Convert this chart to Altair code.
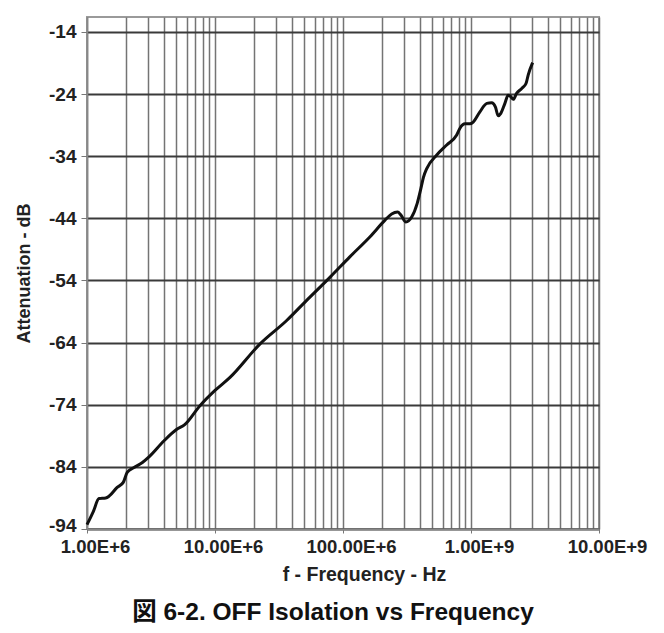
import altair as alt
import pandas as pd

# Measured curve (frequency in Hz, attenuation in dB)
freq_hz = [1.0e6, 1.12e6, 1.24e6, 1.40e6, 1.49e6, 1.72e6, 1.92e6, 2.06e6, 2.33e6, 2.71e6,
           3.05e6, 4.0e6, 5.0e6, 5.8e6, 7.6e6, 10e6, 13.1e6, 22.5e6, 36.3e6, 52e6,
           79e6, 113e6, 162e6, 213e6, 240e6, 267e6, 282e6, 310e6, 344e6, 380e6,
           405e6, 425e6, 451e6, 540e6, 646e6, 773e6, 820e6, 898e6, 980e6, 1.04e9,
           1.17e9, 1.33e9, 1.45e9, 1.55e9, 1.63e9, 1.71e9, 1.84e9, 1.95e9, 2.04e9, 2.14e9,
           2.27e9, 2.49e9, 2.69e9, 2.8e9, 3.03e9]
atten_db = [-93.3, -91.2, -89.1, -89.0, -88.7, -87.3, -86.5, -84.9, -84.1, -83.3,
            -82.4, -79.8, -78.0, -77.2, -74.2, -71.7, -69.6, -64.2, -60.45, -57.2,
            -53.5, -50.2, -47.0, -44.3, -43.3, -43.0, -43.4, -44.6, -43.8, -41.6,
            -39.3, -37.4, -36.0, -33.8, -32.2, -30.6, -29.5, -28.8, -28.8, -28.5,
            -26.9, -25.5, -25.4, -26.05, -27.5, -27.1, -25.5, -24.2, -24.4, -24.85,
            -23.9, -23.1, -22.3, -20.9, -18.95]

# Axis ticks / labels
y_ticks = [-14, -24, -34, -44, -54, -64, -74, -84, -94]
x_decades = [1e6, 1e7, 1e8, 1e9, 1e10]
x_decade_labels = ["1.00E+6", "10.00E+6", "100.00E+6", "1.00E+9", "10.00E+9"]
x_grid = [m * d for d in [1e6, 1e7, 1e8, 1e9] for m in range(1, 10)] + [1e10]

df = pd.DataFrame({"f": freq_hz, "a": atten_db})

FONT = "Liberation Sans, Arial, Noto Sans CJK JP"

label_expr = " : ".join(
    f"datum.value == {v:g} ? '{t}'" for v, t in zip(x_decades, x_decade_labels)
) + " : ''"
decade_test = " || ".join(f"datum.value == {v:g}" for v in x_decades)

chart = alt.Chart(df).mark_line(
    color="#111111", strokeWidth=3, interpolate="monotone"
).encode(
    x=alt.X("f:Q",
            scale=alt.Scale(type="log", domain=[1e6, 1e10], nice=False),
            axis=alt.Axis(values=x_grid, labelExpr=label_expr,
                          title="f - Frequency - Hz", grid=True,
                          gridColor="#747474", gridWidth=1.5,
                          tickSize={"condition": {"test": decade_test, "value": 4}, "value": 0},
                          tickColor="#777777", domainColor="#888888", domainWidth=1.5,
                          labelFontSize=18.5, labelFont=FONT, labelFontWeight="bold",
                          labelColor="#222222", labelPadding=4, labelOffset=8,
                          labelFlush=False, labelOverlap=False,
                          titleFontSize=19.5, titleFont=FONT, titleFontWeight="bold",
                          titleColor="#222222", titlePadding=10, titleX=277)),
    y=alt.Y("a:Q",
            scale=alt.Scale(domain=[-94, -11.6], nice=False, zero=False),
            axis=alt.Axis(values=y_ticks, labelExpr="'' + datum.value",
                          title="Attenuation - dB", grid=True,
                          gridColor="#3a3a3a", gridWidth=1.8,
                          tickSize=6, tickColor="#777777", domainColor="#888888",
                          domainWidth=1.5,
                          labelOffset={"condition": {"test": "datum.value == -94", "value": -4},
                                       "value": 0},
                          labelFontSize=19, labelFont=FONT, labelFontWeight="bold",
                          labelColor="#222222", labelPadding=5,
                          titleFontSize=18, titleFont=FONT, titleFontWeight="bold",
                          titleColor="#222222", titlePadding=15)),
).properties(
    width=512, height=512,
    title=alt.TitleParams("図 6-2. OFF Isolation vs Frequency", orient="bottom",
                          anchor="middle", fontSize=24.5, font=FONT, fontWeight="bold",
                          color="#111111", offset=17, dx=-10),
    autosize=alt.AutoSizeParams(type="none"),
    padding={"left": 79, "top": 9, "right": 57, "bottom": 100},
).configure_view(stroke="#9a9a9a", strokeWidth=2)

chart.save("out.html", embed_options={"renderer": "svg", "actions": False})
